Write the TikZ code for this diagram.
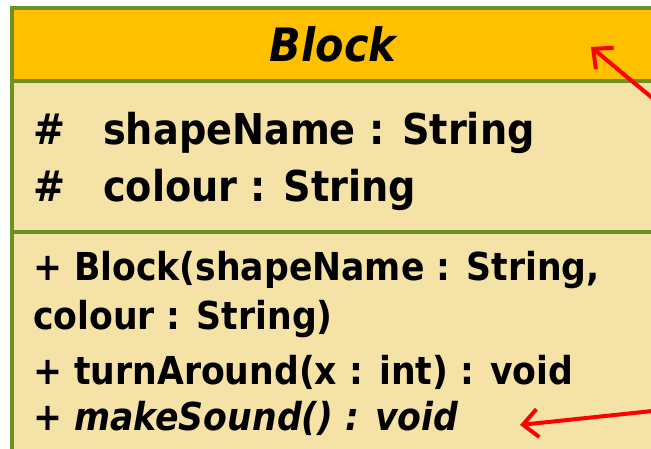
\documentclass[tikz,border=0pt]{standalone}
\usepackage{fontspec}
\setmainfont{DejaVu Sans Condensed}
\usetikzlibrary{arrows.meta}
\usetikzlibrary{positioning}

\definecolor{headfill}{HTML}{FFC000}
\definecolor{bodyfill}{HTML}{F5E2A6}
\definecolor{edgegreen}{HTML}{6E9126}

\begin{document}
\begin{tikzpicture}[x=1pt,y=-1pt,
part/.style={rectangle,draw=edgegreen,line width=3.5pt,minimum width=642pt,anchor=north west,inner sep=0pt,outer sep=0pt},
member/.style={anchor=base west,inner sep=0pt,font=\fontsize{42.5}{42.5}\selectfont\bfseries},
oper/.style={anchor=base west,inner sep=0pt,font=\fontsize{38.5}{38.5}\selectfont\bfseries},
callout/.style={draw=red,line width=4pt,-{Straight Barb[length=15pt,width=28pt]}}]
%[part/.style={draw=edgegreen,line width=3.5pt}]

\useasboundingbox (0,0) rectangle (651,449);
\clip (0,0) rectangle (651,449);

\node (head) [part, fill=headfill, minimum height=73pt, font=\fontsize{46}{46}\selectfont\bfseries\itshape] at (12,8) {Block};
\node (attrs) [part, fill=bodyfill, minimum height=151pt] at (head.south west) {};
\node (ops) [part, fill=bodyfill, minimum height=260pt] at (attrs.south west) {};

% attributes
\node (shape) [member] at (33,145) {\makebox[70pt][l]{\#}shapeName : String};
\node (colour) [member] at (33,202) {\makebox[70pt][l]{\#}colour : String};

% operations
\node (ctor) [oper] at (33,280) {+ Block(shapeName : String,};
\node (ctorb) [oper] at (33,330) {colour : String)};
\node (turn) [oper] at (33,384) {+ turnAround(x : int) : void};
\node (sound) [oper] at (33,430) {+ \textit{makeSound() : void}};

\coordinate (tipA) at (591,47);
\coordinate (tailA) at (662,106);
\coordinate (tipB) at (520,425);
\coordinate (tailB) at (662,410);
\draw[callout] (tailA) -- (tipA);
\draw[callout] (tailB) -- (tipB);

\end{tikzpicture}
\end{document}
